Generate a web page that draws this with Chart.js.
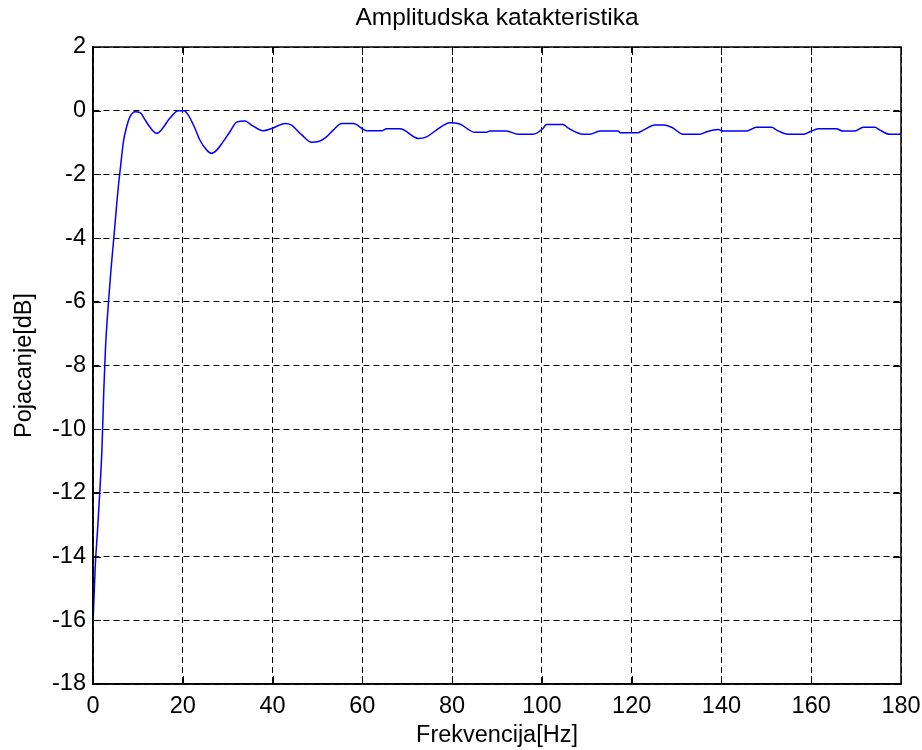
<!DOCTYPE html>
<html>
<head>
<meta charset="utf-8">
<title>Amplitudska katakteristika</title>
<script src="https://cdn.jsdelivr.net/npm/chart.js@4/dist/chart.umd.min.js"></script>
<style>
    body { margin: 0; background: #fff; }
    canvas { display: block; }
</style>
</head>
<body>
<canvas id="grafik" width="922" height="750"></canvas>
<script>
// frekvencija [Hz] i pojacanje [dB] filtra
const freqHz = [
    0, 0.5, 1.0, 1.5, 2.0, 2.4, 2.8, 3.4, 4.0, 4.7, 5.3, 5.7, 6.1, 6.8, 7.5, 8.2, 9.4,
    10.5, 11.6, 12.7, 14.2, 15.3, 17.1, 19.0, 20.3, 21.2, 22.7, 23.8, 25.3, 26.4, 27.6,
    29.0, 30.5, 32.0, 33.9, 35.3, 37.9, 39.8, 42.8, 44.2, 46.5, 48.7, 50.2, 52.0, 53.5,
    55.4, 58.0, 61.0, 64.3, 65.4, 68.4, 72.5, 74.3, 76.5, 79.5, 81.7, 85.1, 87.7, 88.4,
    92.1, 94.7, 98.0, 100.3, 101.0, 104.7, 105.9, 109.2, 110.7, 112.9, 117.0, 117.4,
    121.4, 122.6, 125.2, 127.0, 128.9, 131.5, 135.2, 136.7, 139.3, 140.4, 145.6, 147.8,
    151.2, 152.3, 154.9, 158.2, 159.7, 161.6, 165.6, 167.1, 169.7, 171.6, 174.2, 175.3,
    177.5, 180
];
const gainDb = [
    -16.1, -14.3, -13.2, -12.0, -10.6, -8.8, -7.4, -6.1, -5.0, -3.9, -2.9, -2.3, -1.8, -0.95, -0.5, -0.2, -0.03,
    -0.06, -0.29, -0.52, -0.71, -0.59, -0.24, 0, 0, -0.13, -0.55, -0.92, -1.23, -1.34, -1.23,
    -0.97, -0.66, -0.36, -0.32, -0.45, -0.63, -0.56, -0.40, -0.45, -0.76, -0.99, -0.97, -0.82, -0.61,
    -0.40, -0.40, -0.63, -0.63, -0.57, -0.57, -0.87, -0.82, -0.61, -0.38, -0.42, -0.68, -0.68, -0.64,
    -0.64, -0.74, -0.74, -0.55, -0.43, -0.43, -0.55, -0.74, -0.74, -0.64, -0.64, -0.69,
    -0.69, -0.61, -0.45, -0.45, -0.52, -0.74, -0.74, -0.66, -0.59, -0.64, -0.64, -0.52,
    -0.52, -0.61, -0.74, -0.74, -0.66, -0.57, -0.57, -0.64, -0.64, -0.52, -0.52, -0.61,
    -0.74, -0.74
];

const xTickValues = [0, 20, 40, 60, 80, 100, 120, 140, 160, 180];
const yTickValues = [2, 0, -2, -4, -6, -8, -10, -12, -14, -16, -18];

const naslov = 'Amplitudska katakteristika';
const osaX = 'Frekvencija[Hz]';
const osaY = 'Pojacanje[dB]';

const fontFamily = '"Liberation Sans", Arial, sans-serif';
const fontSize = 23.5;

// naslov iznad oblasti grafika + okvir sa unutrasnjim podeocima
const okvirPlugin = {
    id: 'okvir',
    afterDraw(chart) {
        const { ctx, chartArea: a, scales } = chart;
        const tick = 8;
        ctx.save();
        ctx.strokeStyle = '#000';
        ctx.lineWidth = 1;
        ctx.beginPath();
        scales.x.ticks.forEach(t => {
            const px = Math.round(scales.x.getPixelForValue(t.value)) + 0.5;
            ctx.moveTo(px, a.bottom); ctx.lineTo(px, a.bottom - tick);
            ctx.moveTo(px, a.top); ctx.lineTo(px, a.top + tick);
        });
        scales.y.ticks.forEach(t => {
            const py = Math.round(scales.y.getPixelForValue(t.value)) + 0.5;
            ctx.moveTo(a.left, py); ctx.lineTo(a.left + tick, py);
            ctx.moveTo(a.right, py); ctx.lineTo(a.right - tick, py);
        });
        ctx.stroke();

        ctx.lineWidth = 1.5;
        ctx.strokeRect(a.left, a.top, a.right - a.left, a.bottom - a.top);

        ctx.fillStyle = '#000';
        ctx.font = `24.5px ${fontFamily}`;
        ctx.textAlign = 'center';
        ctx.textBaseline = 'middle';
        ctx.fillText(naslov, (a.left + a.right) / 2, 18);
        ctx.restore();
    }
};

const tekst = { family: fontFamily, size: fontSize };

new Chart(document.getElementById('grafik'), {
    type: 'line',
    data: {
        datasets: [{
            data: freqHz.map((f, i) => ({ x: f, y: gainDb[i] })),
            borderColor: '#0000ff',
            borderWidth: 1.5,
            pointRadius: 0,
            fill: false,
            cubicInterpolationMode: 'monotone'
        }]
    },
    options: {
        responsive: false,
        animation: false,
        layout: { padding: { top: 47, right: 21, left: 0, bottom: 0 } },
        plugins: {
            legend: { display: false },
            tooltip: { enabled: false }
        },
        scales: {
            x: {
                type: 'linear',
                min: 0,
                max: 180,
                afterBuildTicks: scale => { scale.ticks = xTickValues.map(v => ({ value: v })); },
                afterFit: scale => {
                    scale.height = 66;
                    scale.paddingLeft = 0;
                    scale.paddingRight = 0;
                },
                grid: { color: '#000', lineWidth: 1, drawTicks: false },
                border: { display: true, color: '#000', width: 1.5, dash: [6, 4] },
                ticks: { color: '#000', font: tekst, padding: 8, maxRotation: 0 },
                title: { display: true, text: osaX, color: '#000', font: tekst, padding: { top: 0, bottom: 0 } }
            },
            y: {
                type: 'linear',
                min: -18,
                max: 2,
                afterBuildTicks: scale => { scale.ticks = yTickValues.map(v => ({ value: v })); },
                afterFit: scale => {
                    scale.width = 93;
                    scale.paddingTop = 0;
                    scale.paddingBottom = 0;
                },
                grid: { color: '#000', lineWidth: 1, drawTicks: false },
                border: { display: true, color: '#000', width: 1.5, dash: [6, 4] },
                ticks: { color: '#000', font: tekst, padding: 7 },
                title: { display: true, text: osaY, color: '#000', font: tekst, padding: { top: 10, bottom: 0 } }
            }
        }
    },
    plugins: [okvirPlugin]
});
</script>
</body>
</html>
